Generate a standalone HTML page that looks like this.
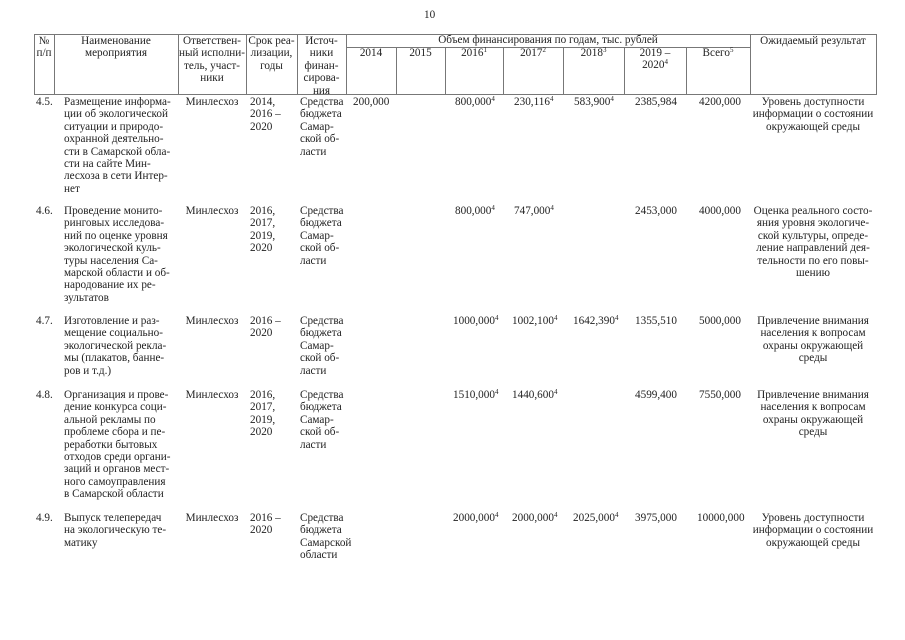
<!DOCTYPE html>
<html><head><meta charset="utf-8">
<style>
body{margin:0;background:#fff;}
#p{position:relative;width:905px;height:640px;overflow:hidden;font-family:"Liberation Serif",serif;font-size:11.2px;line-height:12.4px;color:#222;}
.a{position:absolute;white-space:nowrap;}
.c{text-align:center;}
.l{position:absolute;background:#777;}
sup{font-size:7px;vertical-align:4px;line-height:0;}
</style></head><body><div id="p">
<div class="a" style="left:424px;top:9px;">10</div>
<div class="l" style="left:34px;top:34px;width:843px;height:1px"></div>
<div class="l" style="left:346px;top:47px;width:404px;height:1px"></div>
<div class="l" style="left:34px;top:94px;width:843px;height:1px"></div>
<div class="l" style="left:34px;top:34px;width:1px;height:60px"></div>
<div class="l" style="left:54px;top:34px;width:1px;height:60px"></div>
<div class="l" style="left:178px;top:34px;width:1px;height:60px"></div>
<div class="l" style="left:246px;top:34px;width:1px;height:60px"></div>
<div class="l" style="left:297px;top:34px;width:1px;height:60px"></div>
<div class="l" style="left:346px;top:34px;width:1px;height:60px"></div>
<div class="l" style="left:396px;top:47px;width:1px;height:47px"></div>
<div class="l" style="left:445px;top:47px;width:1px;height:47px"></div>
<div class="l" style="left:503px;top:47px;width:1px;height:47px"></div>
<div class="l" style="left:563px;top:47px;width:1px;height:47px"></div>
<div class="l" style="left:624px;top:47px;width:1px;height:47px"></div>
<div class="l" style="left:686px;top:47px;width:1px;height:47px"></div>
<div class="l" style="left:750px;top:34px;width:1px;height:60px"></div>
<div class="l" style="left:876px;top:34px;width:1px;height:60px"></div>
<div class="a c" style="left:34px;width:20px;top:35px">№<br>п/п</div>
<div class="a c" style="left:54px;width:124px;top:35px">Наименование<br>мероприятия</div>
<div class="a c" style="left:178px;width:68px;top:35px">Ответствен-<br>ный исполни-<br>тель, участ-<br>ники</div>
<div class="a c" style="left:246px;width:51px;top:35px">Срок реа-<br>лизации,<br>годы</div>
<div class="a c" style="left:297px;width:49px;top:35px">Источ-<br>ники<br>финан-<br>сирова-<br>ния</div>
<div class="a c" style="left:346px;width:404px;top:34px">Объем финансирования по годам, тыс. рублей</div>
<div class="a c" style="left:346px;width:50px;top:47px">2014</div>
<div class="a c" style="left:396px;width:49px;top:47px">2015</div>
<div class="a c" style="left:445px;width:58px;top:47px">2016<sup>1</sup></div>
<div class="a c" style="left:503px;width:60px;top:47px">2017<sup>2</sup></div>
<div class="a c" style="left:563px;width:61px;top:47px">2018<sup>3</sup></div>
<div class="a c" style="left:624px;width:62px;top:47px">2019 –<br>2020<sup>4</sup></div>
<div class="a c" style="left:686px;width:64px;top:47px">Всего<sup>5</sup></div>
<div class="a c" style="left:750px;width:126px;top:35px">Ожидаемый результат</div>
<div class="a" style="left:36px;top:96px">4.5.</div>
<div class="a" style="left:64px;top:96px">Размещение информа-<br>ции об экологической<br>ситуации и природо-<br>охранной деятельно-<br>сти в Самарской обла-<br>сти на сайте Мин-<br>лесхоза в сети Интер-<br>нет</div>
<div class="a c" style="left:178px;width:68px;top:96px">Минлесхоз</div>
<div class="a" style="left:250px;top:96px">2014,<br>2016 –<br>2020</div>
<div class="a" style="left:300px;top:96px">Средства<br>бюджета<br>Самар-<br>ской об-<br>ласти</div>
<div class="a" style="left:353px;top:96px">200,000</div>
<div class="a" style="left:455px;top:96px">800,000<sup>4</sup></div>
<div class="a" style="left:514px;top:96px">230,116<sup>4</sup></div>
<div class="a" style="left:574px;top:96px">583,900<sup>4</sup></div>
<div class="a" style="left:635px;top:96px">2385,984</div>
<div class="a" style="left:699px;top:96px">4200,000</div>
<div class="a c" style="left:750px;width:126px;top:96px">Уровень доступности<br>информации о состоянии<br>окружающей среды</div>
<div class="a" style="left:36px;top:205px">4.6.</div>
<div class="a" style="left:64px;top:205px">Проведение монито-<br>ринговых исследова-<br>ний по оценке уровня<br>экологической куль-<br>туры населения Са-<br>марской области и об-<br>народование их ре-<br>зультатов</div>
<div class="a c" style="left:178px;width:68px;top:205px">Минлесхоз</div>
<div class="a" style="left:250px;top:205px">2016,<br>2017,<br>2019,<br>2020</div>
<div class="a" style="left:300px;top:205px">Средства<br>бюджета<br>Самар-<br>ской об-<br>ласти</div>
<div class="a" style="left:455px;top:205px">800,000<sup>4</sup></div>
<div class="a" style="left:514px;top:205px">747,000<sup>4</sup></div>
<div class="a" style="left:635px;top:205px">2453,000</div>
<div class="a" style="left:699px;top:205px">4000,000</div>
<div class="a c" style="left:750px;width:126px;top:205px">Оценка реального состо-<br>яния уровня экологиче-<br>ской культуры, опреде-<br>ление направлений дея-<br>тельности по его повы-<br>шению</div>
<div class="a" style="left:36px;top:315px">4.7.</div>
<div class="a" style="left:64px;top:315px">Изготовление и раз-<br>мещение социально-<br>экологической рекла-<br>мы (плакатов, банне-<br>ров и т.д.)</div>
<div class="a c" style="left:178px;width:68px;top:315px">Минлесхоз</div>
<div class="a" style="left:250px;top:315px">2016 –<br>2020</div>
<div class="a" style="left:300px;top:315px">Средства<br>бюджета<br>Самар-<br>ской об-<br>ласти</div>
<div class="a" style="left:453px;top:315px">1000,000<sup>4</sup></div>
<div class="a" style="left:512px;top:315px">1002,100<sup>4</sup></div>
<div class="a" style="left:573px;top:315px">1642,390<sup>4</sup></div>
<div class="a" style="left:635px;top:315px">1355,510</div>
<div class="a" style="left:699px;top:315px">5000,000</div>
<div class="a c" style="left:750px;width:126px;top:315px">Привлечение внимания<br>населения к вопросам<br>охраны окружающей<br>среды</div>
<div class="a" style="left:36px;top:389px">4.8.</div>
<div class="a" style="left:64px;top:389px">Организация и прове-<br>дение конкурса соци-<br>альной рекламы по<br>проблеме сбора и пе-<br>реработки бытовых<br>отходов среди органи-<br>заций и органов мест-<br>ного самоуправления<br>в Самарской области</div>
<div class="a c" style="left:178px;width:68px;top:389px">Минлесхоз</div>
<div class="a" style="left:250px;top:389px">2016,<br>2017,<br>2019,<br>2020</div>
<div class="a" style="left:300px;top:389px">Средства<br>бюджета<br>Самар-<br>ской об-<br>ласти</div>
<div class="a" style="left:453px;top:389px">1510,000<sup>4</sup></div>
<div class="a" style="left:512px;top:389px">1440,600<sup>4</sup></div>
<div class="a" style="left:635px;top:389px">4599,400</div>
<div class="a" style="left:699px;top:389px">7550,000</div>
<div class="a c" style="left:750px;width:126px;top:389px">Привлечение внимания<br>населения к вопросам<br>охраны окружающей<br>среды</div>
<div class="a" style="left:36px;top:512px">4.9.</div>
<div class="a" style="left:64px;top:512px">Выпуск телепередач<br>на экологическую те-<br>матику</div>
<div class="a c" style="left:178px;width:68px;top:512px">Минлесхоз</div>
<div class="a" style="left:250px;top:512px">2016 –<br>2020</div>
<div class="a" style="left:300px;top:512px">Средства<br>бюджета<br>Самарской<br>области</div>
<div class="a" style="left:453px;top:512px">2000,000<sup>4</sup></div>
<div class="a" style="left:512px;top:512px">2000,000<sup>4</sup></div>
<div class="a" style="left:573px;top:512px">2025,000<sup>4</sup></div>
<div class="a" style="left:635px;top:512px">3975,000</div>
<div class="a" style="left:697px;top:512px">10000,000</div>
<div class="a c" style="left:750px;width:126px;top:512px">Уровень доступности<br>информации о состоянии<br>окружающей среды</div>
</div></body></html>
